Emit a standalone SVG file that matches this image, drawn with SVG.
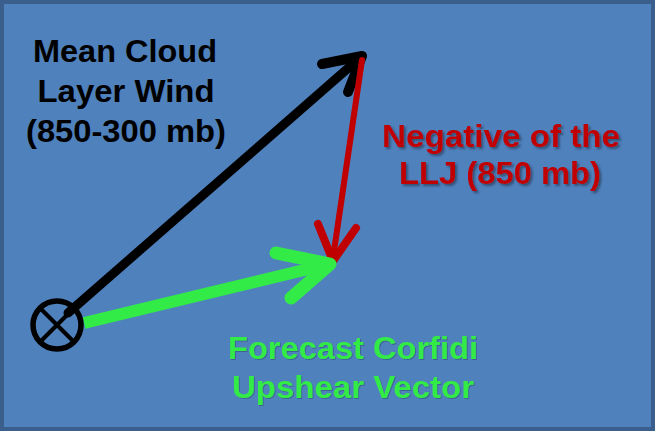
<svg xmlns="http://www.w3.org/2000/svg" width="655" height="431" viewBox="0 0 655 431">
<defs>
<style>
.t{font-family:"Liberation Sans",Arial,sans-serif;font-weight:bold;font-size:32px;text-anchor:middle}
.blk{fill:#000}
.red{fill:#C00000}
.grn{fill:#33EB47}
.ln{fill:none;stroke-linecap:round;stroke-linejoin:round}
</style>
<filter id="sh" x="-10%" y="-10%" width="120%" height="130%">
<feDropShadow dx="2" dy="2" stdDeviation="1" flood-color="#1a2a40" flood-opacity="0.6"/>
</filter>
<filter id="sh2" x="-10%" y="-10%" width="120%" height="130%">
<feDropShadow dx="1" dy="1" stdDeviation="0.6" flood-color="#1a2a40" flood-opacity="0.35"/>
</filter>
</defs>
<rect x="2" y="2" width="651" height="427" fill="#4F81BD" stroke="#3A5F8C" stroke-width="4"/>
<g id="connectors">
<g id="wind-arrow">
<line class="ln" x1="68" y1="313" x2="362" y2="56" stroke="#000" stroke-width="9"/>
<polyline class="ln" points="322,64 362,56 348,92" stroke="#000" stroke-width="10"/>
</g>
<g id="llj-arrow">
<line class="ln" x1="362" y1="60" x2="333" y2="258" stroke="#C00000" stroke-width="6"/>
<polyline class="ln" points="318,224 333,261 356,228" stroke="#C00000" stroke-width="8"/>
</g>
<g id="corfidi-arrow">
<line x1="84" y1="323" x2="325" y2="265" stroke="#33EB47" stroke-width="12"/>
<polyline class="ln" points="276,253 330,264 291,298" stroke="#33EB47" stroke-width="13"/>
</g>
</g>
<g id="origin">
<circle cx="57" cy="325" r="24" fill="none" stroke="#000" stroke-width="5.5"/>
<line x1="40" y1="308" x2="74" y2="342" stroke="#000" stroke-width="4"/>
<line x1="74" y1="308" x2="40" y2="342" stroke="#000" stroke-width="4"/>
</g>
<g id="label-mean" class="t blk">
<text x="125" y="62" textLength="184" lengthAdjust="spacingAndGlyphs">Mean Cloud</text>
<text x="126" y="102" textLength="177" lengthAdjust="spacingAndGlyphs">Layer Wind</text>
<text x="126" y="142" textLength="200" lengthAdjust="spacingAndGlyphs">(850-300 mb)</text>
</g>
<g id="label-llj" class="t red" filter="url(#sh)">
<text x="501" y="147" textLength="238" lengthAdjust="spacingAndGlyphs">Negative of the</text>
<text x="500" y="184" textLength="202" lengthAdjust="spacingAndGlyphs">LLJ (850 mb)</text>
</g>
<g id="label-corfidi" class="t grn" filter="url(#sh2)">
<text x="353" y="359" textLength="250" lengthAdjust="spacingAndGlyphs">Forecast Corfidi</text>
<text x="353" y="398" textLength="242" lengthAdjust="spacingAndGlyphs">Upshear Vector</text>
</g>
</svg>
